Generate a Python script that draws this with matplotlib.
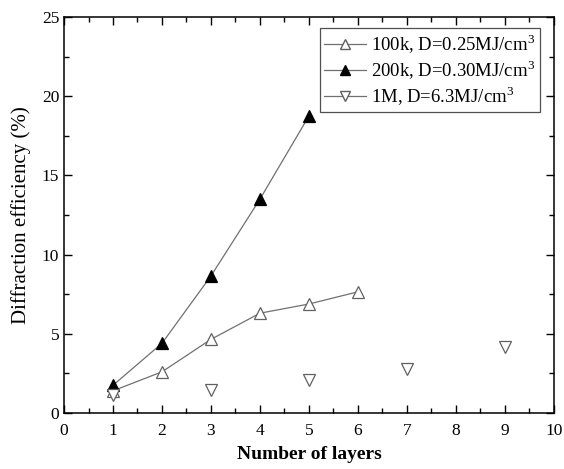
import matplotlib
matplotlib.use("Agg")
import matplotlib.pyplot as plt
from matplotlib.ticker import MultipleLocator
from matplotlib.lines import Line2D

plt.rcParams["font.family"] = ["Liberation Serif", "DejaVu Serif"]
plt.rcParams["mathtext.fontset"] = "custom"
plt.rcParams["mathtext.rm"] = "Liberation Serif"

# data
layers_100k = [1, 2, 3, 4, 5, 6]
eff_100k = [1.4, 2.6, 4.65, 6.3, 6.88, 7.65]
layers_200k = [1, 2, 3, 4, 5]
eff_200k = [1.75, 4.4, 8.65, 13.5, 18.75]
layers_1m = [1, 3, 5, 7, 9]
eff_1m = [1.15, 1.48, 2.06, 2.8, 4.17]

labels = [
    r"100k, D=0.25MJ/cm$^3$",
    r"200k, D=0.30MJ/cm$^3$",
    r"1M, D=6.3MJ/cm$^3$",
]

fig = plt.figure(figsize=(5.64, 4.69), dpi=100)
ax = fig.add_axes([0.1135, 0.1194, 0.8685, 0.8444])

line_gray = "#707070"
ax.plot(layers_100k, eff_100k, color=line_gray, lw=0.9, marker="^", ms=9,
        mfc="white", mec="#606060", mew=0.9)
ax.plot(layers_200k, eff_200k, color=line_gray, lw=0.9, marker="^", ms=9,
        mfc="black", mec="black", mew=0.9)
ax.plot(layers_1m, eff_1m, lw=0, marker="v", ms=9,
        mfc="white", mec="#606060", mew=0.9)

ax.set_xlim(0, 10)
ax.set_ylim(0, 25)
ax.xaxis.set_major_locator(MultipleLocator(1))
ax.xaxis.set_minor_locator(MultipleLocator(0.5))
ax.yaxis.set_major_locator(MultipleLocator(5))
ax.yaxis.set_minor_locator(MultipleLocator(2.5))
ax.tick_params(which="both", direction="in", top=True, right=True, labelsize=12.5, width=1)
ax.tick_params(which="major", length=6)
ax.tick_params(which="minor", length=3.5)
ax.tick_params(axis="x", pad=7)
for s in ax.spines.values():
    s.set_linewidth(1.1)

ax.set_xlabel("Number of layers", fontsize=14, fontweight="bold", labelpad=5)
ax.set_ylabel("Diffraction efficiency (%)", fontsize=15, labelpad=8)

# legend shows a line through every entry, as in the original
leg_handles = [
    Line2D([], [], color=line_gray, lw=0.9, marker="^", ms=7.5, mfc="white", mec="#606060"),
    Line2D([], [], color=line_gray, lw=0.9, marker="^", ms=7.5, mfc="black", mec="black"),
    Line2D([], [], color=line_gray, lw=0.9, marker="v", ms=7.5, mfc="white", mec="#606060"),
]
leg = ax.legend(leg_handles, labels, loc="upper right", fontsize=13.5, fancybox=False,
                edgecolor="#505050", framealpha=1, handlelength=2.2,
                handletextpad=0.3, borderpad=0.25, labelspacing=0.12,
                borderaxespad=0.35, bbox_to_anchor=(0.985, 0.99))
leg.get_frame().set_linewidth(0.9)

fig.savefig("out.png", dpi=100)
